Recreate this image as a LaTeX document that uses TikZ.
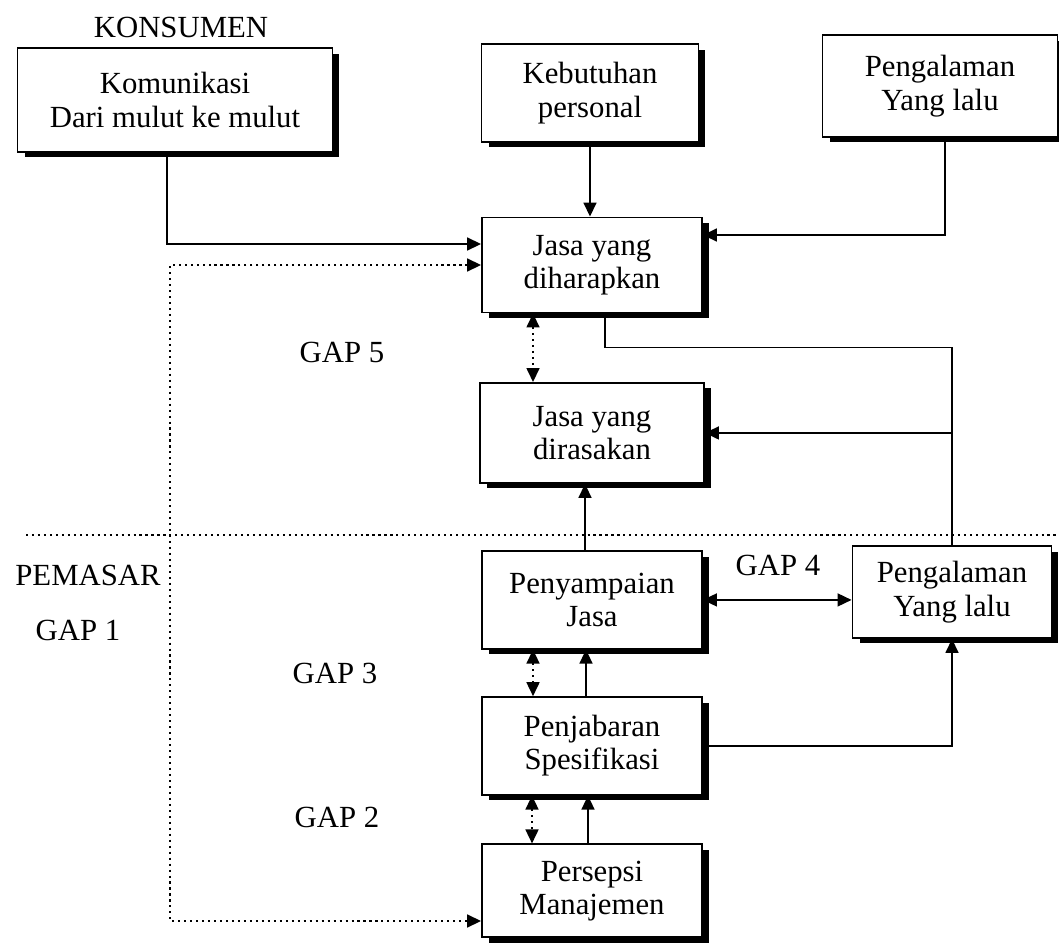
\documentclass[tikz,border=0pt]{standalone}
\usepackage{fontspec}
\setmainfont{Liberation Serif}
\usetikzlibrary{arrows.meta,shadows}

\tikzset{
  kotak/.style={draw, line width=1.1pt, fill=white, align=center,
    minimum width=4.4cm, minimum height=1.95cm,
    font=\fontsize{17.5}{19}\selectfont,
    drop shadow={shadow xshift=0.14cm, shadow yshift=-0.11cm, opacity=1, fill=black}},
  teks/.style={font=\fontsize{17.5}{20}\selectfont},
  panah/.style={-{Triangle[length=0.28cm,width=0.26cm]}},
  panahdua/.style={{Triangle[length=0.28cm,width=0.26cm]}-{Triangle[length=0.28cm,width=0.26cm]}},
  titik/.style={dash pattern=on 1.2pt off 2.2pt}
}

\begin{document}
\begin{tikzpicture}[x=0.02cm, y=-0.02cm, line width=0.95pt]
  \useasboundingbox (0,0) rectangle (1059,943);

  \node [kotak, minimum width=6.3cm, minimum height=2.08cm] (kom) at (175,100) {Komunikasi\\Dari mulut ke mulut};
  \node [kotak, minimum width=4.34cm] (keb) at (590,93) {Kebutuhan\\personal};
  \node [kotak, minimum width=4.7cm, minimum height=2.04cm] (lalu1) at (940,86) {Pengalaman\\Yang lalu};
  \node [kotak, minimum height=1.9cm] (harap) at (592,265) {Jasa yang\\diharapkan};
  \node [kotak, minimum width=4.48cm, minimum height=2cm] (rasa) [below of=harap, node distance=3.36cm] {Jasa yang\\dirasakan};
  \node [kotak] (sampai) [below of=rasa, node distance=3.34cm] {Penyampaian\\Jasa};
  \node [kotak, minimum width=3.98cm, minimum height=1.84cm] (lalu2) at (952,592) {Pengalaman\\Yang lalu};
  \node [kotak] (jabar) [below of=sampai, node distance=2.92cm] {Penjabaran\\Spesifikasi};
  \node [kotak, minimum height=1.86cm] (persepsi) [below of=jabar, node distance=2.9cm] {Persepsi\\Manajemen};

  \node [teks] (konsumen) at (181,27) {KONSUMEN};
  \node [teks] (pemasar) at (88,575) {PEMASAR};
  \node [teks] (gap1) at (78,630) {GAP 1};
  \node [teks] (gap5) at (342,352) {GAP 5};
  \node [teks] (gap3) at (335,673) {GAP 3};
  \node [teks] (gap2) at (337,817) {GAP 2};
  \node [teks] (gap4) at (778,565) {GAP 4};

  \coordinate (batasL) at (26,535);
  \coordinate (batasR) at (1059,535);
  \coordinate (sudut) at (170,921);
  \draw [titik] (batasL) -- (batasR);

  \draw [panah] ([xshift=-0.16cm]kom.south) |- ([yshift=0.42cm]harap.west);
  \draw [panah] (keb.south) -- (keb.south |- harap.north);
  \draw [panah] ([xshift=0.1cm]lalu1.south) |- ([yshift=0.6cm]harap.east);
  \draw [titik, panahdua] (harap.west) -| (sudut) -- (sudut -| persepsi.west);
  \draw [titik, panahdua] ([xshift=-1.18cm]harap.south) -- ([xshift=-1.18cm]harap.south |- rasa.north);
  \draw ([xshift=0.26cm]harap.south) -- ++(0,34) -| (lalu2.north);
  \draw [panah] (lalu2.north |- rasa.east) -- (rasa.east);
  \draw [panah] ([xshift=-0.14cm]sampai.north) -- ([xshift=-0.14cm]sampai.north |- rasa.south);
  \draw [panahdua] (sampai.east) -- (sampai.east -| lalu2.west);
  \draw [titik, panahdua] ([xshift=-1.18cm]sampai.south) -- ([xshift=-1.18cm]sampai.south |- jabar.north);
  \draw [panah] ([xshift=-0.12cm]jabar.north) -- ([xshift=-0.12cm]jabar.north |- sampai.south);
  \draw [titik, panahdua] ([xshift=-1.2cm]jabar.south) -- ([xshift=-1.2cm]jabar.south |- persepsi.north);
  \draw [panah] ([xshift=-0.08cm]persepsi.north) -- ([xshift=-0.08cm]persepsi.north |- jabar.south);
  \draw [panah] (jabar.east) -| (lalu2.south);
\end{tikzpicture}
\end{document}
